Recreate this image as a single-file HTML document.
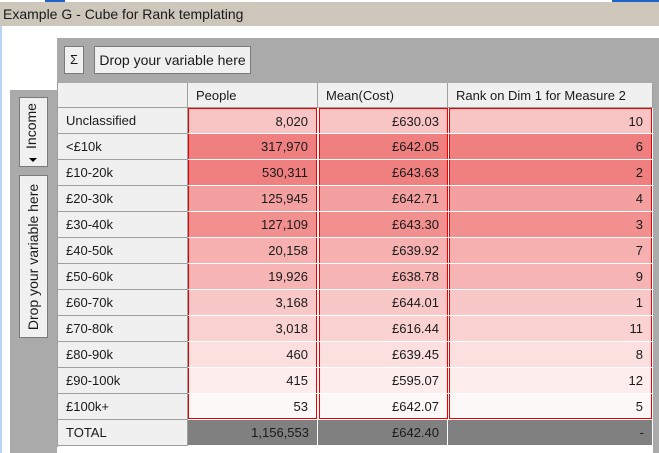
<!DOCTYPE html>
<html><head><meta charset="utf-8"><style>
*{margin:0;padding:0;box-sizing:border-box}
body{width:659px;height:453px;overflow:hidden;background:#fff;position:relative;font-family:"Liberation Sans","DejaVu Sans",sans-serif;font-size:13px;color:#1a1a1a}
.a{position:absolute}
.btn{position:absolute;background:#f0f0f0;border:1px solid #7a7a7a}
.c{position:absolute;height:25px;line-height:25px;padding:0 8px;white-space:nowrap}
.h{background:#f0f0f0;border-right:1px solid #a0a0a0;border-bottom:1px solid #a0a0a0}
.d{text-align:right;border-left:1px solid #e00;border-right:1px solid #e00}
</style></head><body>
<div class="a" style="left:0;top:0;width:659px;height:2px;background:#fff"></div>
<div class="a" style="left:45px;top:0;width:20px;height:2px;background:#1e64c8"></div>
<div class="a" style="left:612px;top:0;width:47px;height:2px;background:#1e64c8"></div>
<div class="a" style="left:0;top:2px;width:659px;height:24px;background:#cdc6bb;line-height:24px;padding-left:3px;font-size:14px">Example G - Cube for Rank templating</div>
<div class="a" style="left:0;top:26px;width:2px;height:427px;background:#b8d4f0"></div>
<div class="a" style="left:57px;top:38px;width:602px;height:45px;background:#aaaaaa"></div>
<div class="a" style="left:653px;top:83px;width:6px;height:370px;background:#aaaaaa"></div>
<div class="a" style="left:10px;top:90px;width:47px;height:363px;background:#aaaaaa"></div>
<div class="btn" style="left:64px;top:46px;width:20px;height:28px;line-height:26px;text-align:center">Σ</div>
<div class="btn" style="left:94px;top:46px;width:157px;height:28px;line-height:26px;text-align:center;font-size:14px">Drop your variable here</div>
<div class="btn" style="left:19px;top:97px;width:29px;height:70px"><div class="a" style="left:-24px;top:16px;width:70px;height:24px;line-height:24px;text-align:center;transform:rotate(-90deg);font-size:14px">Income</div><div class="a" style="left:9px;top:60px;width:0;height:0;border-left:4px solid transparent;border-right:4px solid transparent;border-top:4px solid #000"></div></div>
<div class="btn" style="left:19px;top:175px;width:29px;height:163px"><div class="a" style="left:-67px;top:68px;width:160px;height:26px;line-height:26px;text-align:center;transform:rotate(-90deg);font-size:14px">Drop your variable here</div></div>
<div class="a" style="left:57px;top:83px;width:596px;height:364px;background:#fff;border-left:1px solid #a0a0a0"></div>
<div class="c h" style="left:58px;top:83px;width:130px"></div>
<div class="c h" style="left:188px;top:83px;width:130px">People</div>
<div class="c h" style="left:318px;top:83px;width:130px">Mean(Cost)</div>
<div class="c h" style="left:448px;top:83px;width:205px">Rank on Dim 1 for Measure 2</div>
<div id="rows"></div>
<script>
var R=[["Unclassified","8,020","£630.03","10","#f8c4c4"],["<£10k","317,970","£642.05","6","#f08080"],["£10-20k","530,311","£643.63","2","#f08080"],["£20-30k","125,945","£642.71","4","#f4a0a0"],["£30-40k","127,109","£643.30","3","#f29090"],["£40-50k","20,158","£639.92","7","#f6b0b0"],["£50-60k","19,926","£638.78","9","#f6b4b4"],["£60-70k","3,168","£644.01","1","#f8c8c8"],["£70-80k","3,018","£616.44","11","#fad2d2"],["£80-90k","460","£639.45","8","#fcdfdf"],["£90-100k","415","£595.07","12","#fdeded"],["£100k+","53","£642.07","5","#fdf8f8"]];
var h="";
R.forEach(function(r,i){var y=108+i*26;var bt=i==0?"border-top:1px solid #e00;":"";var bb=i==11?"border-bottom:1px solid #e00;":"";
h+='<div class="c h" style="left:58px;top:'+y+'px;width:130px;height:26px;line-height:26px">'+r[0].replace("<","&lt;")+'</div>';
[[188,129,1],[319,129,2],[449,203,3]].forEach(function(c){h+='<div class="c d" style="left:'+c[0]+'px;top:'+y+'px;width:'+c[1]+'px;height:25px;background:'+r[4]+';'+bt+bb+'">'+r[c[2]]+'</div>';});});
h+='<div class="c h" style="left:58px;top:420px;width:130px;height:26px;line-height:26px">TOTAL</div>';
[[188,130,"1,156,553"],[318,130,"£642.40"],[448,205,"-"]].forEach(function(c){h+='<div class="c" style="left:'+c[0]+'px;top:420px;width:'+c[1]+'px;height:26px;background:#808080;text-align:right;border-right:1px solid #fff;border-bottom:1px solid #fff">'+c[2]+'</div>';});
document.getElementById("rows").innerHTML=h;
</script>
</body></html>
